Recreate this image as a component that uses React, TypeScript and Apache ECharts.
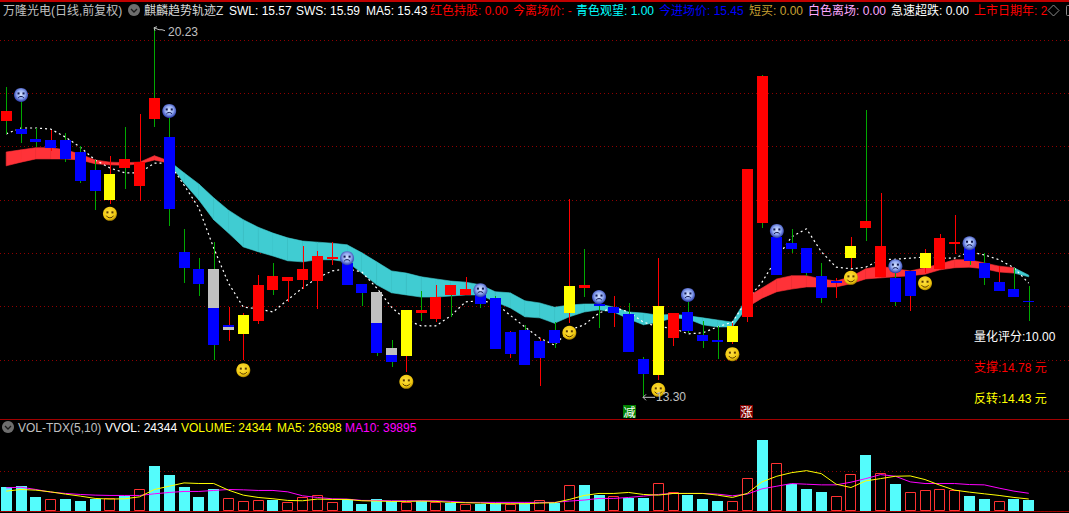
import React, { useEffect, useRef } from "react";
import * as echarts from "echarts";

// ---- price candles (yuan) ----
const highs = [19.12,18.88,18.35,18.31,18.26,18.01,17.75,17.83,18.37,18.61,20.23,18.56,16.46,15.91,16.21,14.99,14.88,15.59,15.82,15.56,16.14,16.04,16.21,15.84,15.43,15.28,14.38,14.94,15.29,15.41,15.41,15.56,15.22,15.2,14.54,14.66,14.41,14.71,17.02,16.08,15.09,15.2,15.07,14.06,15.91,14.88,15.09,14.73,14.64,14.69,17.58,19.34,16.31,16.46,16.1,15.82,15.54,16.31,18.69,17.13,15.65,15.67,16.08,16.36,16.72,16.1,16.01,15.76,15.73,15.39];
const lows = [18.24,18.07,17.99,17.92,17.71,17.32,16.81,16.93,17.21,16.98,18.37,16.51,15.44,15.2,14.0,14.36,14.0,14.68,15.22,15.09,15.33,14.96,15.78,15.41,15.01,14.08,13.87,13.78,14.73,14.71,14.81,15.22,14.98,14.21,14.04,13.91,13.51,14.23,14.69,15.18,14.6,14.62,14.15,13.3,13.63,14.26,14.51,14.23,14.02,14.3,14.71,16.48,15.59,16.01,15.58,15.07,15.16,15.73,16.23,15.56,15.01,14.92,15.63,15.71,15.99,15.78,15.41,15.29,15.18,14.73];
const bodyTops = [18.67,18.33,18.14,18.13,18.13,17.9,17.56,17.49,17.77,17.71,18.91,18.18,16.03,15.71,15.71,14.66,14.84,15.41,15.58,15.56,15.71,15.95,15.93,15.82,15.43,15.28,14.23,14.94,14.94,15.18,15.41,15.33,15.22,15.16,14.53,14.56,14.36,14.56,15.39,15.41,15.05,14.99,14.86,14.02,15.01,14.88,14.9,14.47,14.38,14.64,17.58,19.33,16.31,16.19,16.1,15.58,15.48,16.14,16.61,16.14,15.54,15.67,16.01,16.29,16.21,16.1,15.82,15.46,15.33,15.11];
const bodyBottoms = [18.48,18.24,18.09,17.98,17.77,17.36,17.17,17.0,17.6,17.26,18.52,16.83,15.73,15.43,14.28,14.56,14.49,14.73,15.31,15.48,15.5,15.48,15.89,15.41,15.26,14.13,13.96,14.08,14.88,14.77,15.22,15.22,15.05,14.21,14.11,13.91,14.04,14.32,14.88,15.35,15.01,14.88,14.15,13.74,13.72,14.41,14.54,14.36,14.34,14.34,14.81,16.57,15.59,16.08,15.63,15.16,15.44,15.91,16.48,15.56,15.09,15.2,15.73,15.71,16.18,15.86,15.54,15.29,15.18,15.09];
// r red, b blue, y yellow, t grey over blue, u blue over grey
const bodyKinds = "r b b b b b b y r r r b b b t u y r r r r r r b b t t y r r r r b b b b b b y r b b b b y r b b b y r r b b b b b y r r b b y r r b b b b b".split(" ");
const wickKinds = "g g g r g g g r g r g g g g g r r r g r r r r g g g g r g r g r g g r g r g r g g r g g r r g g g r r g g g g g r r g r g r r r r g g r g g".split(" ");
// price where the two-tone bodies change colour, by candle index
const splitIndex = [14, 15, 25, 26];
const splitPrice = [14.98, 14.62, 14.69, 14.09];

// ---- MA5 dotted line ----
const ma5Price = [18.24,18.35,18.35,18.33,18.18,17.99,17.75,17.6,17.51,17.51,17.69,17.69,17.28,16.85,16.1,15.44,14.99,14.96,14.9,15.13,15.35,15.54,15.67,15.71,15.65,15.35,14.99,14.75,14.64,14.64,14.83,15.09,15.11,15.07,14.84,14.62,14.41,14.28,14.56,14.66,14.88,14.99,14.9,14.71,14.62,14.6,14.49,14.51,14.62,14.71,15.13,15.46,15.91,16.31,16.46,16.03,15.74,15.71,15.74,15.88,15.89,15.91,15.93,15.91,15.91,16.03,15.97,15.88,15.73,15.44];

// ---- SWL / SWS ribbon ----
const ribbonHigh = [17.9,17.94,17.98,17.98,17.94,17.86,17.75,17.71,17.7,17.71,17.83,17.73,17.51,17.3,17.04,16.81,16.63,16.49,16.38,16.29,16.23,16.21,16.19,16.16,16.01,15.84,15.67,15.63,15.56,15.52,15.48,15.46,15.41,15.28,15.26,15.11,15.07,14.99,15.03,15.05,15.05,14.99,14.9,14.88,14.84,14.86,14.83,14.79,14.75,14.71,15.18,15.35,15.52,15.58,15.58,15.52,15.48,15.56,15.71,15.76,15.71,15.67,15.73,15.8,15.88,15.88,15.82,15.76,15.73,15.59];
const ribbonLow = [17.64,17.71,17.77,17.77,17.77,17.75,17.68,17.66,17.65,17.68,17.75,17.69,17.32,17.0,16.63,16.38,16.12,16.03,15.95,15.86,15.84,15.88,15.88,15.84,15.63,15.41,15.26,15.22,15.18,15.18,15.2,15.22,15.22,15.09,14.98,14.81,14.79,14.69,14.81,14.9,14.94,14.9,14.77,14.66,14.71,14.79,14.77,14.66,14.62,14.62,14.99,15.16,15.28,15.33,15.37,15.37,15.37,15.43,15.52,15.54,15.56,15.58,15.61,15.69,15.73,15.74,15.71,15.65,15.63,15.56];
// colour changes: segments from each start index use the paired colour
const ribbonStarts = [0, 11, 50, 68];
const ribbonKinds = ["red", "cyan", "red", "cyan"];

// ---- face markers ----
const sadIndex = [1, 11, 23, 32, 40, 46, 52, 60, 65];
const sadPrice = [18.97, 18.67, 15.91, 15.31, 15.18, 15.22, 16.42, 15.76, 16.19];
const smileIndex = [7, 16, 27, 38, 44, 49, 57, 62];
const smilePrice = [16.74, 13.81, 13.59, 14.51, 13.44, 14.11, 15.54, 15.44];

// ---- extreme labels ----
const extremeIndex = [10, 43];
const extremePrice = [20.23, 13.3];

// ---- volume ----
const volumes = [53600,55800,31300,26800,26800,22300,26000,28300,33500,48400,100500,80400,53600,31300,49100,28300,21600,23800,24600,19400,30500,35000,19400,26800,15600,26800,22300,20800,22300,20800,17900,14900,15600,17100,16400,17900,23800,17900,59500,58100,35700,32700,29000,29000,64000,41700,35700,26800,22300,21600,75200,160800,108700,61800,49100,42400,32700,84100,125000,86300,60300,41700,46200,48400,46200,33500,26800,21600,26800,24344];
const volumeKinds = "c c c r c c c r c r c c c c c r r r c r r r r c c c c r c r c r c c r c r c r c c r c c r r c c c r r c r c c c r r c r c r r r r c c r c c".split(" ");
const volMa5 = [44700,48400,46900,43100,38000,33500,28300,26800,27500,31900,48400,55800,63200,61900,61900,46900,35700,30500,27500,23800,23000,26800,26000,26000,23000,22300,21600,21600,22300,21600,19400,18600,17900,16400,16400,16400,17900,18600,26000,35000,39500,39500,41700,37200,35700,39500,39500,39500,35700,30500,39500,65500,78200,86300,90800,84100,60300,52800,67700,72900,78200,78900,70700,58100,46900,42400,38700,35000,30500,26998];
const volMa10 = [52100,53600,48400,42400,39500,37200,35700,35000,35000,35000,38700,41700,44000,44000,46200,48400,47600,46200,46200,43100,34200,30500,27500,26800,23800,23800,23000,23000,23000,23000,21600,19400,19400,19400,19400,19400,19400,19400,22300,24600,28300,28300,30500,33500,37200,39500,39500,39500,38000,34200,38000,49900,55800,61800,60300,58800,58800,64800,72900,81900,78200,65500,61800,61800,61800,59500,58800,51400,44700,39895];

// ---- texts ----
const headerTexts = ["万隆光电(日线,前复权)","麒麟趋势轨迹Z","SWL: 15.57","SWS: 15.59","MA5: 15.43","红色持股: 0.00","今离场价: -","青色观望: 1.00","今进场价: 15.45","短买: 0.00","白色离场: 0.00","急速超跌: 0.00","上市日期年: 2"];
const volumeTexts = ["VOL-TDX(5,10)","VVOL: 24344","VOLUME: 24344","MA5: 26998","MA10: 39895"];
const sideTexts = ["量化评分:10.00","支撑:14.78 元","反转:14.43 元"];
const badgeTexts = ["减","涨"];
const badgeIndex = [42, 50];

const FONT = '12px "Liberation Sans","Noto Sans CJK SC",sans-serif';
const STEP = 14.82;
const FIRST = 6.2;
const W = 1069;
const H = 513;
const COLORS: Record<string, string> = {
  r: "#ff0000", b: "#0000ff", y: "#ffff00", g: "#00a800", grey: "#c0c0c0",
  ribbonRed: "#ff3238", ribbonCyan: "#40ccd2", volCyan: "#54fcfc", volRed: "#ff3232",
  grid: "#900000", sep: "#a00000",
};
const headerStyle = [
  { x: 3, fill: "#c0c0c0" }, { x: 144, fill: "#d8d8d8" }, { x: 229, fill: "#ffffff" }, { x: 296, fill: "#ffffff" },
  { x: 366, fill: "#ffffff" }, { x: 430, fill: "#ff0000" }, { x: 513, fill: "#ff0000" }, { x: 576, fill: "#00ffff" },
  { x: 659, fill: "#0000ff" }, { x: 749, fill: "#c8a032" }, { x: 808, fill: "#ffa8ff" }, { x: 891, fill: "#ffffff" },
  { x: 974, fill: "#ff0000" },
];
const volumeStyle = [
  { x: 18, fill: "#c0c0c0" }, { x: 105, fill: "#ffffff" }, { x: 181, fill: "#ffff00" },
  { x: 277, fill: "#ffff00" }, { x: 345, fill: "#ff00ff" },
];
const sideStyle = [
  { y: 337, fill: "#ffffff" }, { y: 368, fill: "#ff0000" }, { y: 399, fill: "#ffff00" },
];

const textEl = (text: string, x: number, y: number, fill: string) => ({
  type: "text", x, y, silent: true,
  style: { text, x: 0, y: 0, fill, font: FONT, textVerticalAlign: "middle", textAlign: "left" },
});

const chevronIcon = (cx: number, cy: number) => ({
  type: "group", silent: true,
  children: [
    { type: "circle", shape: { cx, cy, r: 6 }, style: { fill: "#6e6e6e" } },
    { type: "polyline", shape: { points: [[cx - 3, cy - 1], [cx, cy + 2], [cx + 3, cy - 1]] }, style: { fill: "none", stroke: "#1a1a1a", lineWidth: 1.3 } },
  ],
});

const candleItem = (_: any, api: any) => {
  const i = api.value(0);
  const cx = api.coord([i, 15])[0];
  const ypx = (v: number) => Math.round(api.coord([i, v])[1]);
  const xw = Math.round(cx);
  const x0 = Math.round(cx - 5.5);
  const top = ypx(api.value(3));
  const bot = Math.max(ypx(api.value(4)), top + 1);
  const hi = ypx(api.value(1));
  const lo = ypx(api.value(2));
  const kind = bodyKinds[i];
  const children: any[] = [
    { type: "rect", shape: { x: xw, y: hi, width: 1, height: Math.max(lo - hi, 1) }, style: { fill: COLORS[wickKinds[i]] } },
  ];
  if (kind === "t" || kind === "u") {
    const sp = ypx(splitPrice[splitIndex.indexOf(i)]);
    children.push({ type: "rect", shape: { x: x0, y: top, width: 11, height: sp - top }, style: { fill: kind === "t" ? COLORS.grey : COLORS.b } });
    children.push({ type: "rect", shape: { x: x0, y: sp, width: 11, height: bot - sp }, style: { fill: kind === "t" ? COLORS.b : COLORS.grey } });
  } else {
    children.push({ type: "rect", shape: { x: x0, y: top, width: 11, height: bot - top }, style: { fill: COLORS[kind] } });
  }
  return { type: "group", children };
};

const ribbonItem = (_: any, api: any) => {
  const i = api.value(0);
  const a = api.coord([i, ribbonHigh[i]]);
  const b = api.coord([i + 1, ribbonHigh[i + 1]]);
  const c = api.coord([i + 1, ribbonLow[i + 1]]);
  const d = api.coord([i, ribbonLow[i]]);
  let k = 0;
  ribbonStarts.forEach((s, n) => { if (i >= s) k = n; });
  const fill = ribbonKinds[k] === "red" ? COLORS.ribbonRed : COLORS.ribbonCyan;
  return { type: "polygon", shape: { points: [a, b, c, d] }, style: { fill, stroke: fill, lineWidth: 0.6 } };
};

const faceItem = (sad: boolean) => (_: any, api: any) => {
  const [cx, cy] = api.coord([api.value(0), api.value(1)]);
  const ink = sad ? "#101850" : "#5a3a00";
  const fill = sad
    ? new echarts.graphic.RadialGradient(0.5, 0.45, 0.55, [
        { offset: 0, color: "#d8e4ff" }, { offset: 0.55, color: "#90a8f0" }, { offset: 1, color: "#2838a8" },
      ])
    : new echarts.graphic.RadialGradient(0.45, 0.4, 0.6, [
        { offset: 0, color: "#ffe040" }, { offset: 0.75, color: "#f0c810" }, { offset: 1, color: "#a88000" },
      ]);
  return {
    type: "group",
    children: [
      { type: "circle", shape: { cx, cy, r: 7 }, style: { fill } },
      { type: "rect", shape: { x: cx - 3.5, y: cy - 2.5, width: 2, height: 2 }, style: { fill: ink } },
      { type: "rect", shape: { x: cx + 1.5, y: cy - 2.5, width: 2, height: 2 }, style: { fill: ink } },
      sad
        ? { type: "arc", shape: { cx, cy: cy + 5, r: 3.5, startAngle: Math.PI * 1.2, endAngle: Math.PI * 1.8, clockwise: true }, style: { fill: "none", stroke: ink, lineWidth: 1 } }
        : { type: "arc", shape: { cx, cy: cy, r: 4, startAngle: Math.PI * 0.15, endAngle: Math.PI * 0.85, clockwise: true }, style: { fill: "none", stroke: ink, lineWidth: 1 } },
    ],
  };
};

const extremeItem = (_: any, api: any) => {
  const i = api.value(0);
  const price = api.value(1);
  const [cx, cy] = api.coord([i, price]);
  const x = Math.round(cx);
  const top = i === 10;
  const stroke = "#c0c0c0";
  const line = top
    ? [[x, cy], [x + 5, cy + 2], [x + 8, cy + 2], [x + 11, cy + 3]]
    : [[x, cy], [x + 12, cy]];
  const head = top
    ? [[x + 3, cy - 1], [x, cy], [x + 1, cy + 3]]
    : [[x + 3, cy - 3], [x, cy], [x + 3, cy + 3]];
  return {
    type: "group",
    children: [
      { type: "polyline", shape: { points: line }, style: { fill: "none", stroke, lineWidth: 1 } },
      { type: "polyline", shape: { points: head }, style: { fill: "none", stroke, lineWidth: 1 } },
      {
        type: "text", x: x + (top ? 14 : 13), y: cy + (top ? 4 : 0),
        style: { text: price.toFixed(2), x: 0, y: 0, fill: stroke, font: FONT, textVerticalAlign: "middle", textAlign: "left" },
      },
    ],
  };
};

const volumeItem = (_: any, api: any) => {
  const i = api.value(0);
  const [cx, y] = api.coord([i, api.value(1)]);
  const base = api.coord([i, 0])[1];
  const x0 = Math.round(cx - 5.5);
  const top = Math.round(y);
  const bottom = Math.round(base);
  if (volumeKinds[i] === "c") {
    return { type: "rect", shape: { x: x0, y: top, width: 11, height: bottom - top }, style: { fill: COLORS.volCyan } };
  }
  return { type: "rect", shape: { x: x0 + 0.5, y: top + 0.5, width: 10, height: bottom - top - 1 }, style: { fill: "none", stroke: COLORS.volRed, lineWidth: 1 } };
};

const badgeItem = (_: any, api: any) => {
  const i = api.value(0);
  const isCut = i === badgeIndex[0];
  const cx = Math.round(api.coord([i, 14])[0]) + (isCut ? 0 : -1);
  const x = cx - 6;
  return {
    type: "group",
    children: [
      { type: "rect", shape: { x, y: 405, width: 13, height: 13 }, style: { fill: isCut ? "#008000" : "#800000" } },
      {
        type: "text", x: cx + 0.5, y: 411.5,
        style: { text: badgeTexts[badgeIndex.indexOf(i)], x: 0, y: 0, fill: "#ffffff", font: '12px "Noto Sans CJK SC",sans-serif', textAlign: "center", textVerticalAlign: "middle" },
      },
    ],
  };
};

export default function App() {
  const ref = useRef<HTMLDivElement>(null);
  useEffect(() => {
    document.body.style.margin = "0";
    document.body.style.background = "#000";
    const chart = echarts.init(ref.current!, null, { renderer: "svg", width: W, height: H });
    const idx = highs.map((_, i) => i);
    const xMin = -FIRST / STEP;
    const xMax = (W - FIRST) / STEP;
    const hiddenX = (gridIndex: number) => ({
      type: "value", gridIndex, min: xMin, max: xMax,
      axisLabel: { show: false }, axisTick: { show: false }, axisLine: { show: false }, splitLine: { show: false },
    });
    const dots = { show: true, lineStyle: { color: COLORS.grid, type: [1, 3] as any, width: 1 } };
    chart.setOption({
      animation: false,
      backgroundColor: "#000000",
      grid: [
        { left: 0, width: W, top: 40, height: 320 },
        { left: 0, width: W, top: 471, height: 40 },
      ],
      xAxis: [hiddenX(0), hiddenX(1)],
      yAxis: [
        { type: "value", gridIndex: 0, min: 14, max: 20, interval: 1, axisLabel: { show: false }, axisTick: { show: false }, axisLine: { show: false }, splitLine: dots },
        { type: "value", gridIndex: 1, min: 0, max: 90000, interval: 90000, axisLabel: { show: false }, axisTick: { show: false }, axisLine: { show: false }, splitLine: dots },
      ],
      series: [
        {
          type: "custom", name: "ribbon", xAxisIndex: 0, yAxisIndex: 0, z: 2, silent: true, clip: false,
          renderItem: ribbonItem, encode: { x: 0, y: 1 },
          data: idx.slice(0, -1).map((i) => [i, ribbonHigh[i], ribbonLow[i]]),
        },
        {
          type: "line", name: "MA5", xAxisIndex: 0, yAxisIndex: 0, z: 3, silent: true, clip: false, symbol: "none",
          lineStyle: { color: "#ffffff", width: 1.2, type: [2, 3] as any },
          data: idx.map((i) => [i, ma5Price[i]]),
        },
        {
          type: "custom", name: "candles", xAxisIndex: 0, yAxisIndex: 0, z: 4, silent: true, clip: false,
          renderItem: candleItem, encode: { x: 0, y: [1, 2, 3, 4] },
          data: idx.map((i) => [i, highs[i], lows[i], bodyTops[i], bodyBottoms[i]]),
        },
        {
          type: "custom", name: "sad", xAxisIndex: 0, yAxisIndex: 0, z: 5, silent: true, clip: false,
          renderItem: faceItem(true), encode: { x: 0, y: 1 },
          data: sadIndex.map((i, n) => [i, sadPrice[n]]),
        },
        {
          type: "custom", name: "smile", xAxisIndex: 0, yAxisIndex: 0, z: 5, silent: true, clip: false,
          renderItem: faceItem(false), encode: { x: 0, y: 1 },
          data: smileIndex.map((i, n) => [i, smilePrice[n]]),
        },
        {
          type: "custom", name: "extremes", xAxisIndex: 0, yAxisIndex: 0, z: 6, silent: true, clip: false,
          renderItem: extremeItem, encode: { x: 0, y: 1 },
          data: extremeIndex.map((i, n) => [i, extremePrice[n]]),
        },
        {
          type: "custom", name: "badges", xAxisIndex: 0, yAxisIndex: 0, z: 6, silent: true, clip: false,
          renderItem: badgeItem, encode: { x: 0, y: 1 },
          data: badgeIndex.map((i) => [i, 14]),
        },
        {
          type: "custom", name: "volume", xAxisIndex: 1, yAxisIndex: 1, z: 2, silent: true, clip: false,
          renderItem: volumeItem, encode: { x: 0, y: 1 },
          data: idx.map((i) => [i, volumes[i]]),
        },
        {
          type: "line", name: "VMA10", xAxisIndex: 1, yAxisIndex: 1, z: 3, silent: true, clip: false, symbol: "none",
          lineStyle: { color: "#ff00ff", width: 1 },
          data: idx.map((i) => [i, volMa10[i]]),
        },
        {
          type: "line", name: "VMA5", xAxisIndex: 1, yAxisIndex: 1, z: 4, silent: true, clip: false, symbol: "none",
          lineStyle: { color: "#ffff00", width: 1 },
          data: idx.map((i) => [i, volMa5[i]]),
        },
      ],
      graphic: [
        { type: "rect", silent: true, shape: { x: 0, y: 0, width: W, height: 2 }, style: { fill: "#c00000" } },
        { type: "rect", silent: true, shape: { x: 0, y: 419, width: W, height: 1 }, style: { fill: COLORS.sep } },
        { type: "rect", silent: true, shape: { x: 0, y: 511, width: W, height: 1 }, style: { fill: COLORS.sep } },
        ...headerTexts.map((t, i) => textEl(t, headerStyle[i].x, 10.5, headerStyle[i].fill)),
        chevronIcon(134, 10),
        { type: "polygon", silent: true, shape: { points: [[1053.5, 5], [1059, 10.5], [1053.5, 16], [1048, 10.5]] }, style: { fill: "none", stroke: "#8a8a8a", lineWidth: 1 } },
        { type: "rect", silent: true, shape: { x: 1066.5, y: 5.5, width: 6, height: 10, r: 1 }, style: { fill: "none", stroke: "#8a8a8a", lineWidth: 1 } },
        chevronIcon(8, 427),
        ...volumeTexts.map((t, i) => textEl(t, volumeStyle[i].x, 427.5, volumeStyle[i].fill)),
        ...sideTexts.map((t, i) => textEl(t, 974, sideStyle[i].y, sideStyle[i].fill)),
      ],
    });
    return () => chart.dispose();
  }, []);
  return <div ref={ref} style={{ width: W, height: H, background: "#000" }} />;
}
